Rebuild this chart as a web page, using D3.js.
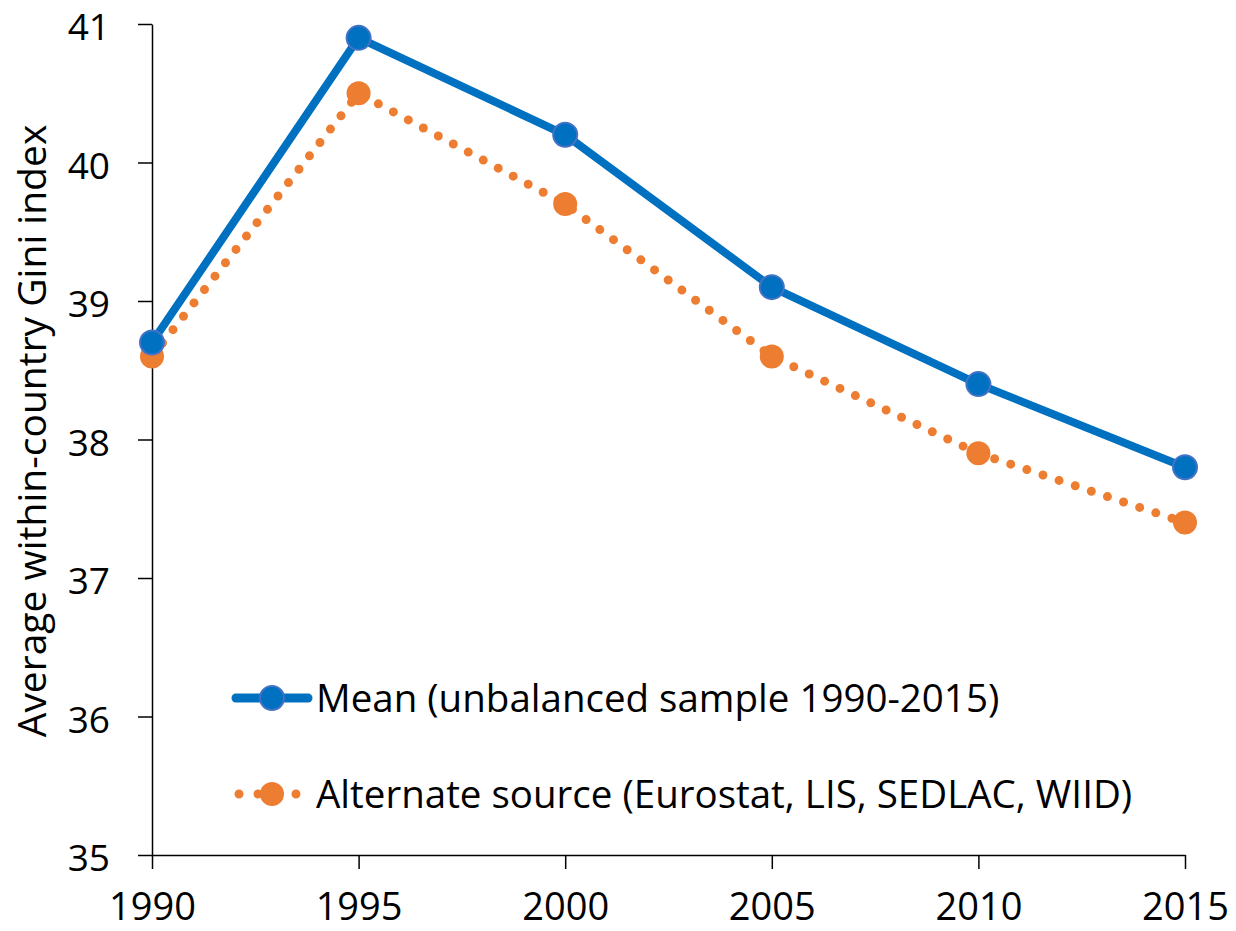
<!DOCTYPE html>
<html>
<head>
<meta charset="utf-8">
<script src="https://cdn.jsdelivr.net/npm/d3@7"></script>
<style>
  body { margin: 0; background: #fff; }
  svg text { font-family: "Open Sans", Lato, sans-serif; fill: #000; }
</style>
</head>
<body>
<div id="chart"></div>
<script>
// data
const years = [1990, 1995, 2000, 2005, 2010, 2015];
const meanGini = [38.7, 40.9, 40.2, 39.1, 38.4, 37.8];
const altGini = [38.6, 40.5, 39.7, 38.6, 37.9, 37.4];
const yTicks = [35, 36, 37, 38, 39, 40, 41];
const seriesNames = ['Mean (unbalanced sample 1990-2015)', 'Alternate source (Eurostat, LIS, SEDLAC, WIID)'];

const W = 1236, H = 931;
const margin = { top: 24, right: 51, bottom: 76, left: 152 };
const width = W - margin.left - margin.right;
const height = H - margin.top - margin.bottom;

const svg = d3.select('#chart').append('svg')
  .attr('width', W).attr('height', H);
const g = svg.append('g').attr('transform', `translate(${margin.left},${margin.top})`);

const x = d3.scaleLinear().domain([1990, 2015]).range([0, width]);
const y = d3.scaleLinear().domain([35, 41]).range([height, 0]);

// axes
const xAxis = g.append('g')
  .attr('transform', `translate(0,${height})`)
  .call(d3.axisBottom(x).tickValues(years).tickFormat(d3.format('d')).tickSize(14).tickSizeOuter(0).tickPadding(24));
xAxis.selectAll('text').attr('font-size', 38);

const yAxis = g.append('g')
  .call(d3.axisLeft(y).tickValues(yTicks).tickFormat(d3.format('d')).tickSize(14).tickSizeOuter(0).tickPadding(28));
yAxis.selectAll('text').attr('font-size', 37).attr('dy', '0.43em');

[xAxis, yAxis].forEach(a => {
  a.select('.domain').attr('stroke', '#000').attr('stroke-width', 1.5);
  a.selectAll('.tick line').attr('stroke', '#000').attr('stroke-width', 1.5);
});

svg.append('text')
  .attr('transform', `translate(46,431) rotate(-90)`)
  .attr('text-anchor', 'middle')
  .attr('font-size', 39)
  .text('Average within-country Gini index');

const line = d3.line().x((d, i) => x(years[i])).y(d => y(d));

// alternate source: dotted orange
g.append('path')
  .datum(altGini)
  .attr('fill', 'none')
  .attr('stroke', '#ED7D31')
  .attr('stroke-width', 9)
  .attr('stroke-linecap', 'round')
  .attr('stroke-dasharray', '0 17')
  .attr('d', line);

g.selectAll('.alt-dot')
  .data(altGini)
  .enter().append('circle')
  .attr('cx', (d, i) => x(years[i]))
  .attr('cy', d => y(d))
  .attr('r', 12)
  .attr('fill', '#ED7D31');

// mean: solid blue
g.append('path')
  .datum(meanGini)
  .attr('fill', 'none')
  .attr('stroke', '#0070C0')
  .attr('stroke-width', 8)
  .attr('stroke-linejoin', 'round')
  .attr('d', line);

g.selectAll('.mean-dot')
  .data(meanGini)
  .enter().append('circle')
  .attr('cx', (d, i) => x(years[i]))
  .attr('cy', d => y(d))
  .attr('r', 12)
  .attr('fill', '#0070C0')
  .attr('stroke', '#4472C4')
  .attr('stroke-width', 2);

// legend
const legend = svg.append('g');
const lg1 = legend.append('g').attr('transform', 'translate(0,698)');
lg1.append('line').attr('x1', 236).attr('x2', 308)
  .attr('stroke', '#0070C0').attr('stroke-width', 9).attr('stroke-linecap', 'round');
lg1.append('circle').attr('cx', 272).attr('r', 12)
  .attr('fill', '#0070C0').attr('stroke', '#4472C4').attr('stroke-width', 2);
lg1.append('text').attr('x', 316).attr('dy', '0.36em').attr('font-size', 38.5).text(seriesNames[0]);

const lg2 = legend.append('g').attr('transform', 'translate(0,794)');
lg2.append('line').attr('x1', 239).attr('x2', 300)
  .attr('stroke', '#ED7D31').attr('stroke-width', 9).attr('stroke-linecap', 'round')
  .attr('stroke-dasharray', '0 19');
lg2.append('circle').attr('cx', 272).attr('r', 12).attr('fill', '#ED7D31');
lg2.append('text').attr('x', 316).attr('dy', '0.36em').attr('font-size', 38.5).text(seriesNames[1]);
</script>
</body>
</html>
